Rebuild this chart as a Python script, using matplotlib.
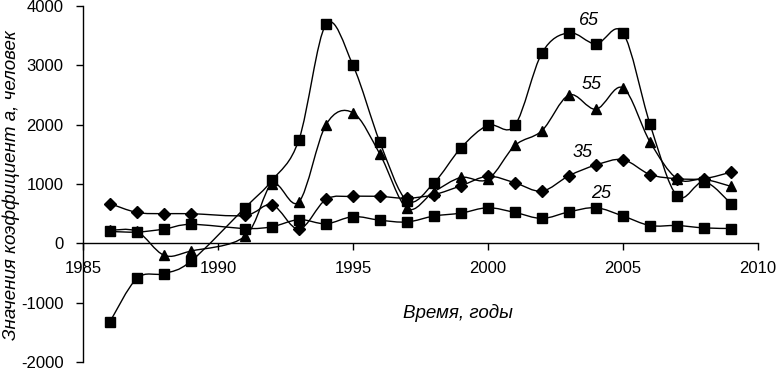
import matplotlib
matplotlib.use("Agg")
import matplotlib.pyplot as plt
from matplotlib.path import Path
from matplotlib.patches import PathPatch
import numpy as np

years = [1986, 1987, 1988, 1989, 1991, 1992, 1993, 1994, 1995, 1996, 1997, 1998,
         1999, 2000, 2001, 2002, 2003, 2004, 2005, 2006, 2007, 2008, 2009]
s25 = [200, 190, 240, 320, 250, 280, 400, 330, 450, 390, 360, 460,
       510, 600, 520, 420, 530, 600, 460, 300, 300, 260, 250]
s35 = [670, 520, 500, 500, 470, 650, 240, 740, 790, 790, 760, 820,
       970, 1130, 1020, 880, 1140, 1320, 1410, 1160, 1090, 1090, 1200]
s55 = [220, 200, -200, -130, 120, 1000, 700, 2000, 2200, 1500, 590, 870,
       1110, 1080, 1650, 1900, 2500, 2260, 2620, 1710, 1090, 1080, 960]
s65 = [-1320, -590, -510, -300, 600, 1060, 1750, 3690, 3000, 1700, 720, 1020,
       1610, 1990, 1990, 3210, 3550, 3360, 3550, 2010, 800, 1040, 670]

series = [("25", s25, "s", 6.5), ("35", s35, "D", 6), ("55", s55, "^", 7.5), ("65", s65, "s", 6.5)]
labels = {"65": (2003.75, 3760), "55": (2003.85, 2680), "35": (2003.5, 1530), "25": (2004.2, 840)}

xticks = [1985, 1990, 1995, 2000, 2005, 2010]
yticks = [-2000, -1000, 0, 1000, 2000, 3000, 4000]

plt.rcParams['font.family'] = ['Liberation Sans', 'DejaVu Sans']

fig = plt.figure(figsize=(7.77, 3.70), dpi=100)
ax = fig.add_axes([83/777, 8/370, (758-83)/777, (362-6)/370])
ax.set_xlim(1985, 2010)
ax.set_ylim(-2000, 4000)


def smooth_path(xs, ys):
    P = np.column_stack([xs, ys]).astype(float)
    n = len(P)
    verts = [P[0]]
    codes = [Path.MOVETO]
    for i in range(n - 1):
        p0 = P[i - 1] if i > 0 else P[i]
        p1 = P[i]
        p2 = P[i + 1]
        p3 = P[i + 2] if i + 2 < n else P[i + 1]
        c1 = p1 + (p2 - p0) / 6.0
        c2 = p2 - (p3 - p1) / 6.0
        verts += [c1, c2, p2]
        codes += [Path.CURVE4] * 3
    return Path(verts, codes)


for name, vals, mk, ms in series:
    ax.add_patch(PathPatch(smooth_path(years, vals), facecolor='none',
                           edgecolor='black', lw=1.0, zorder=2))
    ax.plot(years, vals, linestyle='none', marker=mk, markersize=ms,
            color='black', zorder=3)
    lx, ly = labels[name]
    ax.text(lx, ly, name, fontsize=13, style='italic', ha='center', va='center')

for s in ['top', 'right']:
    ax.spines[s].set_visible(False)
ax.spines['bottom'].set_position(('data', 0))
ax.spines['left'].set_linewidth(1.0)
ax.spines['bottom'].set_linewidth(1.0)

ax.set_xticks(xticks)
ax.set_xticklabels([str(t) for t in xticks])
ax.set_yticks(yticks)
ax.set_yticklabels([str(t) for t in yticks])
ax.tick_params(axis='x', direction='out', length=5, width=1, pad=8, labelsize=12)
ax.tick_params(axis='y', direction='out', length=5, width=1, pad=9, labelsize=12)

ax.text(1998.9, -1180, "Время, годы", fontsize=13.5, style='italic', ha='center', va='center')
fig.text(11/777, 0.5, "Значения коэффициент a, человек", fontsize=13.5, style='italic',
         rotation=90, ha='center', va='center')

fig.savefig("out.png", dpi=100)
